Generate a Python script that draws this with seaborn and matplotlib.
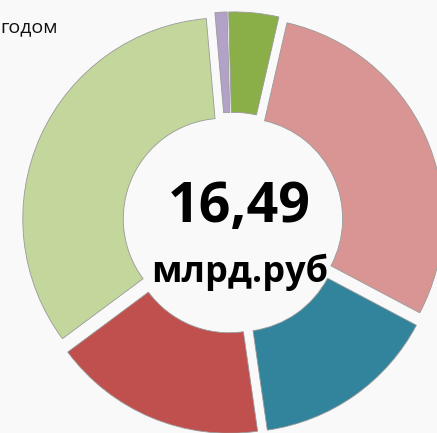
import matplotlib
matplotlib.use("Agg")
import matplotlib.pyplot as plt
import seaborn as sns

# slices in clockwise order, starting just left of 12 o'clock (млрд.руб)
segments = ["Сегмент 1", "Сегмент 2", "Сегмент 3", "Сегмент 4", "Сегмент 5", "Сегмент 6"]
values = [0.16, 0.66, 4.81, 2.47, 2.82, 5.57]
colors = ["#B3A2C7", "#8AAF48", "#D99594", "#31849B", "#C0504D", "#C3D69B"]
total_label = "16,49"
unit_label = "млрд.руб"
title_tail = "годом"

sns.set_style("white")
plt.rcParams["font.family"] = ["Open Sans", "DejaVu Sans"]
palette = sns.color_palette(colors)

fig = plt.figure(figsize=(4.37, 4.33), dpi=100)
fig.patch.set_facecolor("#F9F9F9")
ax = fig.add_axes([0, 0, 1, 1])
ax.set_facecolor("#F9F9F9")

wedges, _ = ax.pie(values, colors=palette, startangle=95, counterclock=False,
                   explode=[0.05] * len(values), radius=1.0,
                   wedgeprops=dict(width=0.5, edgecolor="#9A9A9A", linewidth=0.6))

ax.set_xlim(-1.159, 1.015)
ax.set_ylim(-1.045, 1.109)
ax.set_aspect("equal")
ax.axis("off")

ax.text(0.03, 0.005, total_label, ha="center", va="baseline",
        fontsize=40, fontweight="bold", color="#000000")
ax.text(0.035, -0.294, unit_label, ha="center", va="baseline",
        fontsize=26, fontweight="bold", color="#000000")

fig.text(0.0, 0.926, title_tail, ha="left", va="baseline", fontsize=14, color="#111111")

fig.savefig("out.png", dpi=100, facecolor=fig.get_facecolor())
